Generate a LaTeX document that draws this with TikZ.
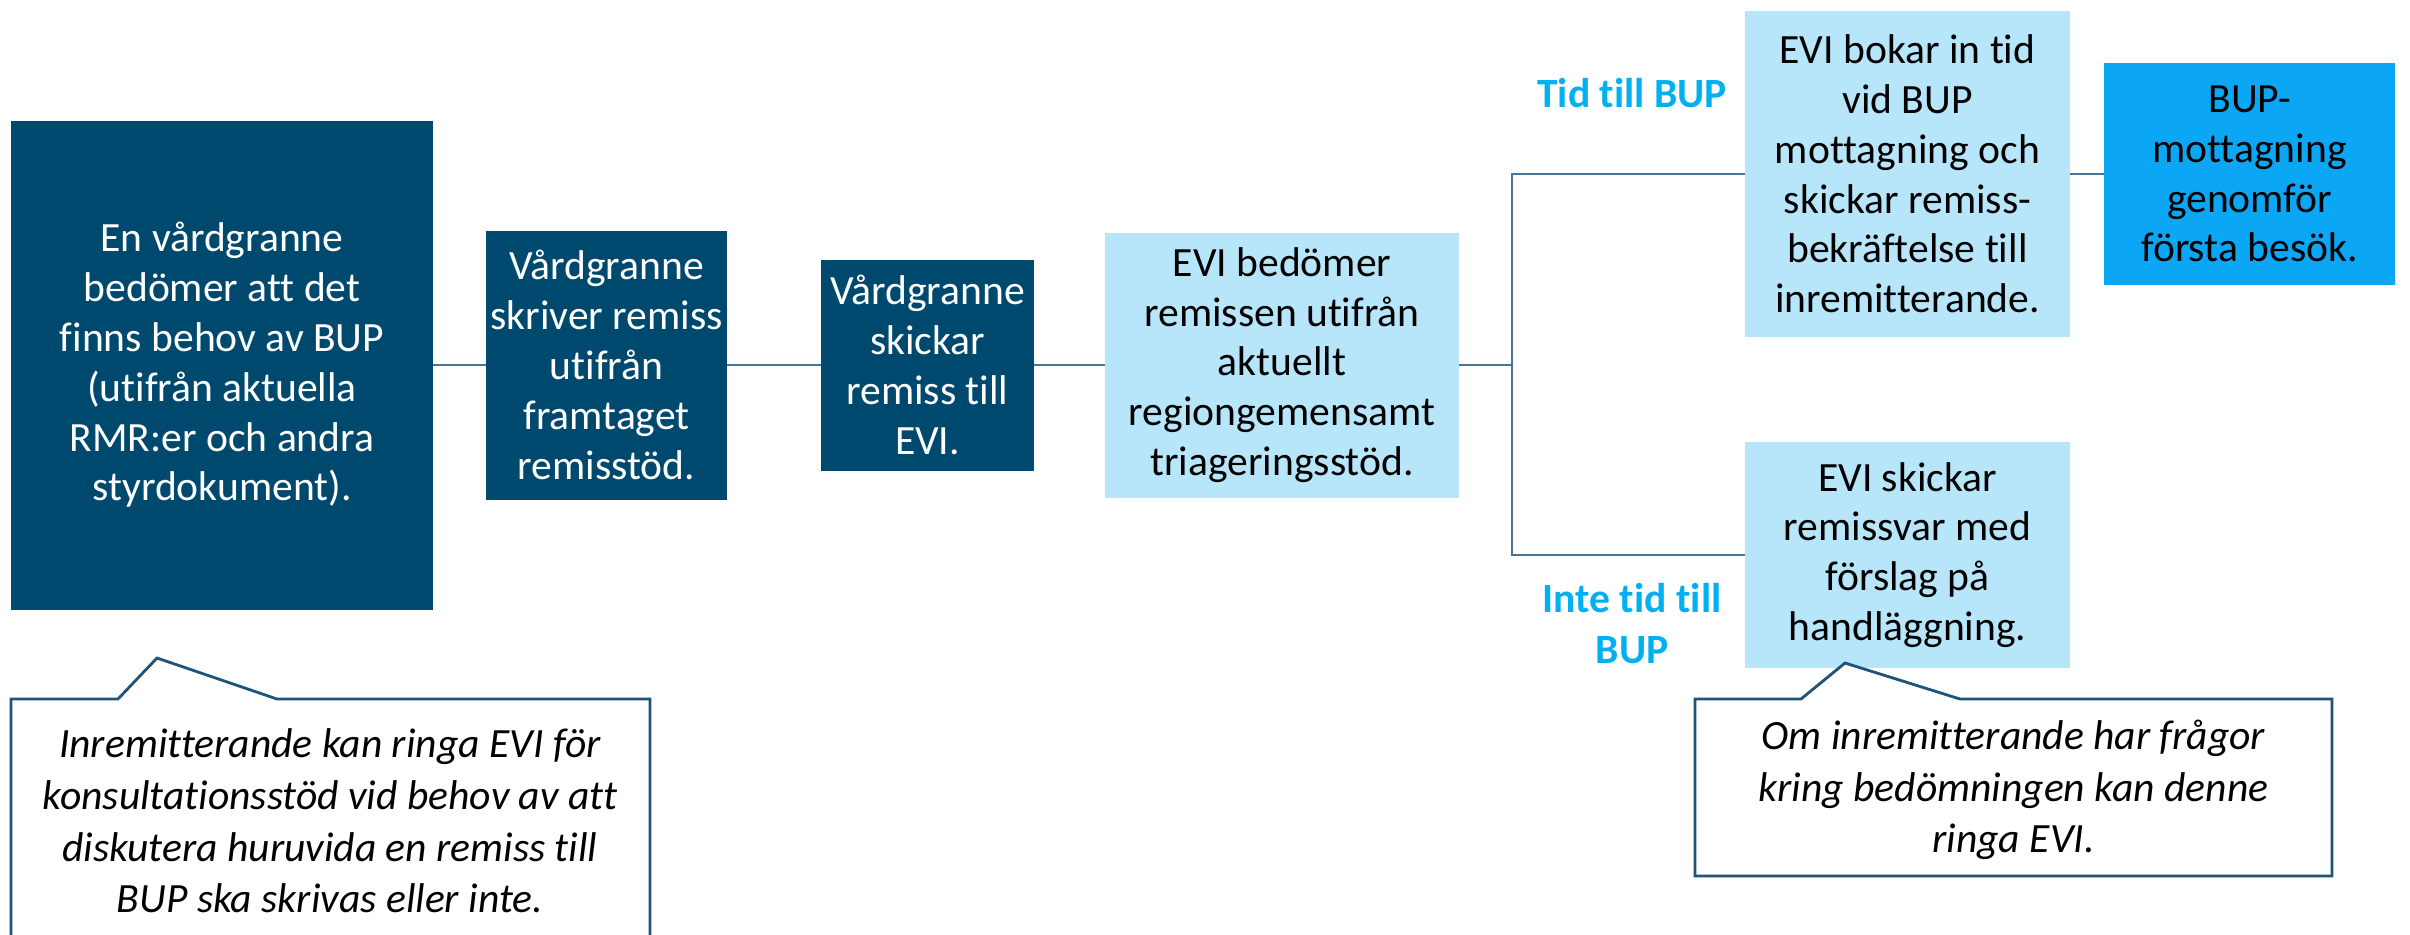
\documentclass[tikz,border=0pt]{standalone}
\usepackage{fontspec}
\setmainfont[Ligatures={NoCommon,NoContextual}]{Carlito}
\definecolor{darkbox}{HTML}{00496E}
\definecolor{lightbox}{HTML}{B7E6FB}
\definecolor{brightbox}{HTML}{0BA7F5}
\definecolor{labelcyan}{HTML}{00B0F0}
\definecolor{connector}{HTML}{4A7493}
\definecolor{noteborder}{HTML}{1F5378}
\tikzset{
  boxbase/.style={rectangle, inner sep=0pt, align=center, font=\fontsize{20.8pt}{24.9pt}\selectfont},
  darkstep/.style={boxbase, fill=darkbox, text=white},
  lightstep/.style={boxbase, fill=lightbox, text=black},
  brightstep/.style={boxbase, fill=brightbox, text=black},
  branchlabel/.style={align=center, text=labelcyan, font=\fontsize{20.8pt}{25.5pt}\selectfont\bfseries},
  link/.style={draw=connector, line width=1.3pt},
  notebox/.style={draw=noteborder, line width=1.4pt, fill=white, line join=miter},
  notetext/.style={align=center, font=\fontsize{20.8pt}{25.8pt}\selectfont\itshape}
}
\begin{document}
\begin{tikzpicture}[x=0.5pt, y=-0.5pt]
\useasboundingbox (0,0) rectangle (2410,934);
\clip (0,0) rectangle (2410,934);
\fill[white] (0,0) rectangle (2410,934);

% main chain
\node[darkstep, minimum width=211pt, minimum height=244.5pt] (b1) at (222,365)
  {En vårdgranne\\bedömer att det\\finns behov av BUP\\(utifrån aktuella\\RMR:er och andra\\styrdokument).};
\node[darkstep, minimum width=120.5pt, minimum height=134.5pt] (b2) at (606.5,365)
  {Vårdgranne\\skriver remiss\\utifrån\\framtaget\\remisstöd.};
\node[darkstep, minimum width=106.5pt, minimum height=105.5pt] (b3) at (927.5,365)
  {Vårdgranne\\skickar\\remiss till\\EVI.};
\node[lightstep, minimum width=177pt, minimum height=132.5pt] (b4) at (1282,365)
  {EVI bedömer\\remissen utifrån\\aktuellt\\regiongemensamt\\triageringsstöd.};
\node[lightstep, minimum width=162.5pt, minimum height=163pt] (b5) at (1907.5,174)
  {EVI bokar in tid\\vid BUP\\mottagning och\\skickar remiss-\\bekräftelse till\\inremitterande.};
\node[brightstep, minimum width=145.5pt, minimum height=111pt] (b6) at (2249.5,174)
  {BUP-\\mottagning\\genomför\\första besök.};
\node[lightstep, minimum width=162.5pt, minimum height=113pt] (b7) at (1907.5,555)
  {EVI skickar\\remissvar med\\förslag på\\handläggning.};

% branch labels
\node[branchlabel] (l1) at (1632,93) {Tid till BUP};
\node[branchlabel] (l2) at (1632,624) {Inte tid till\\BUP};

% connectors
\coordinate (j)  at (1512,365);
\coordinate (jt) at (1512,174);
\coordinate (jb) at (1512,555);
\draw[link] (b1) -- (b2);
\draw[link] (b2) -- (b3);
\draw[link] (b3) -- (b4);
\draw[link] (b4) -- (j);
\draw[link] (b5.west) -- (jt) -- (jb) -- (b7.west);
\draw[link] (b5) -- (b6);

% callouts
\draw[notebox] (11,699) -- (118,699) -- (157,658) -- (277,699) -- (650,699)
  -- (650,1000) -- (11,1000) -- cycle;
\node[notetext] (n1) at (330,821)
  {Inremitterande kan ringa EVI för\\konsultationsstöd vid behov av att\\diskutera huruvida en remiss till\\BUP ska skrivas eller inte.};
\draw[notebox] (1695,699) -- (1801,699) -- (1845,663) -- (1960,699) -- (2332,699)
  -- (2332,876) -- (1695,876) -- cycle;
\node[notetext] (n2) at (2013.5,790)
  {Om inremitterande har frågor\\kring bedömningen kan denne\\ringa EVI.};
\end{tikzpicture}
\end{document}
